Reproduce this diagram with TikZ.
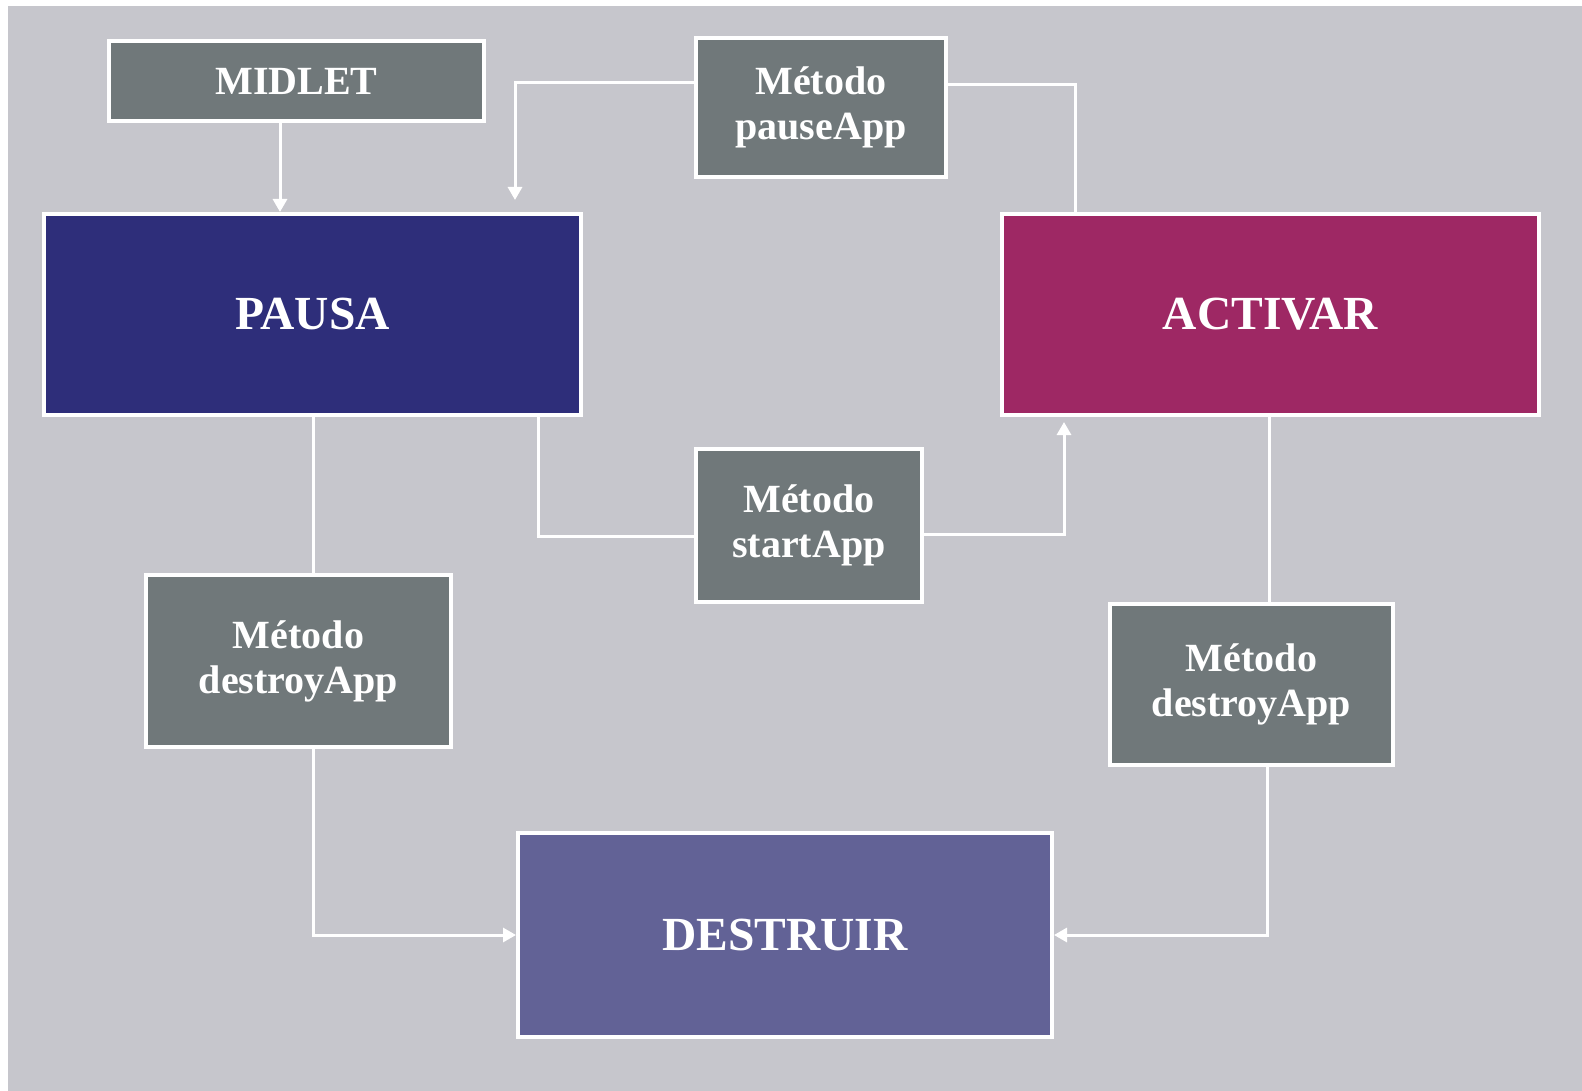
\documentclass[tikz,border=0pt]{standalone}
\usepackage{fontspec}
\setmainfont{Liberation Serif}
\usetikzlibrary{arrows.meta,calc}
\definecolor{bgc}{RGB}{198,198,204}
\definecolor{grayc}{RGB}{112,120,122}
\definecolor{pausac}{RGB}{46,46,122}
\definecolor{activc}{RGB}{158,40,100}
\definecolor{destc}{RGB}{98,98,150}
\tikzset{
  box/.style={draw=white, line width=4pt, inner sep=0pt, text=white, font=\bfseries, align=center},
  graybox/.style={box, fill=grayc, font=\fontsize{40}{45}\selectfont\bfseries},
  bigbox/.style={box, font=\fontsize{47.5}{52}\selectfont\bfseries},
  wire/.style={draw=white, line width=3pt},
  arr/.style={wire, -{Triangle[width=14pt,length=13pt]}},
}
\begin{document}
\begin{tikzpicture}[x=1pt,y=-1pt]
\useasboundingbox (0,0) rectangle (1582,1091);
\fill[bgc] (8,6) rectangle (1582,1091);
% nodes
\node[graybox, minimum width=375pt, minimum height=80pt] (midlet) at (296.5,81) {MIDLET};
\node[graybox, minimum width=250pt, minimum height=139pt] (pause) at (821,107.5) {Método\\pauseApp};
\node[bigbox, fill=pausac, minimum width=537pt, minimum height=201pt] (pausa) at (312.5,314.5) {PAUSA};
\node[bigbox, fill=activc, minimum width=537pt, minimum height=201pt] (activar) at (1270.5,314.5) {ACTIVAR};
\node[graybox, minimum width=226pt, minimum height=153pt] (start) at (809,525.5) {Método\\startApp};
\node[graybox, minimum width=305pt, minimum height=172pt] (destl) at (298.5,661) {Método\\destroyApp};
\node[graybox, minimum width=283pt, minimum height=161pt] (destr) at (1251.5,684.5) {Método\\destroyApp};
\node[bigbox, fill=destc, minimum width=534pt, minimum height=204pt] (destruir) at (785,935) {DESTRUIR};
% helper coordinates
\coordinate (p1) at (515,83);
\coordinate (p1e) at (515,200);
\coordinate (a1) at (1075,85);
\coordinate (s1) at (538,536);
\coordinate (s2) at (1064,534);
\coordinate (s2e) at (1064,422);
\coordinate (d1) at (313,935);
\coordinate (d2) at (1267,935);
% connectors
\draw[arr] (midlet.south -| 280,0) -- (pausa.north -| 280,0);
\draw[arr] (pause.west |- p1) -- (p1) -- (p1e);
\draw[wire] (activar.north -| a1) -- (a1) -- (pause.east |- a1);
\draw[wire] (pausa.south -| s1) -- (s1) -- (start.west |- s1);
\draw[arr] (start.east |- s2) -- (s2) -- (s2e);
\draw[wire] (pausa.south -| d1) -- (destl.north -| d1);
\draw[arr] (destl.south -| d1) -- (d1) -- (destruir.west);
\draw[wire] (activar.south -| 1269,0) -- (destr.north -| 1269,0);
\draw[arr] (destr.south -| d2) -- (d2) -- (destruir.east);
\end{tikzpicture}
\end{document}
